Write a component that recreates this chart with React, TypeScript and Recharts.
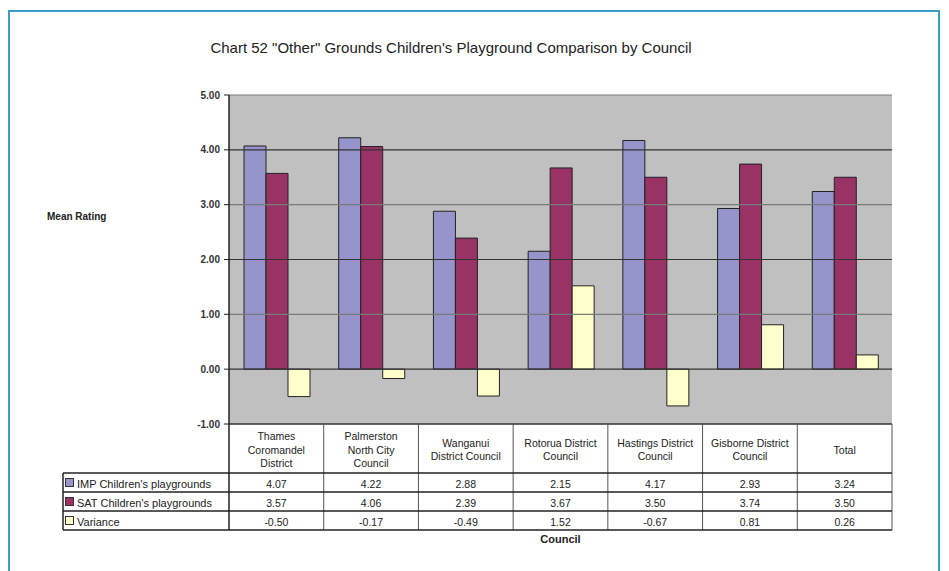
import React from "react";
import { BarChart, Bar, XAxis, YAxis, CartesianGrid, ReferenceLine } from "recharts";

const categoryLines: string[][] = [
  ["Thames", "Coromandel", "District"],
  ["Palmerston", "North City", "Council"],
  ["Wanganui", "District Council"],
  ["Rotorua District", "Council"],
  ["Hastings District", "Council"],
  ["Gisborne District", "Council"],
  ["Total"],
];
const categories = categoryLines.map((l) => l.join(" "));
const impValues = [4.07, 4.22, 2.88, 2.15, 4.17, 2.93, 3.24];
const satValues = [3.57, 4.06, 2.39, 3.67, 3.5, 3.74, 3.5];
const varianceValues = [-0.5, -0.17, -0.49, 1.52, -0.67, 0.81, 0.26];
const yTicks = [-1, 0, 1, 2, 3, 4, 5];

const seriesNames = ["IMP Children's playgrounds", "SAT Children's playgrounds", "Variance"];
const seriesColors = ["#9595cc", "#993366", "#ffffcc"];
const rows = [impValues, satValues, varianceValues];

const data = categories.map((name, i) => ({
  name,
  imp: impValues[i],
  sat: satValues[i],
  variance: varianceValues[i],
}));

const FONT = "'Liberation Sans', Arial, sans-serif";
const PLOT_LEFT = 229;
const PLOT_RIGHT = 892;
const BAND = (PLOT_RIGHT - PLOT_LEFT) / categories.length;
const HEADER_BOTTOM = 473;
const ROW_H = 19;
const TABLE_BOTTOM = HEADER_BOTTOM + ROW_H * 3;

function TableTick(props: any) {
  const { x, y, payload } = props;
  const i = payload.index;
  const lines = categoryLines[i];
  const headerMid = (y + HEADER_BOTTOM) / 2 + 1;
  const startY = headerMid - ((lines.length - 1) * 13.5) / 2;
  return (
    <g>
      {i === 0 && (
        <line x1={x - BAND / 2} x2={x - BAND / 2} y1={y} y2={TABLE_BOTTOM} stroke="#222" strokeWidth={1.5} />
      )}
      <line x1={x + BAND / 2} x2={x + BAND / 2} y1={y} y2={TABLE_BOTTOM} stroke="#555" strokeWidth={1} />
      {lines.map((t, k) => (
        <text key={k} x={x} y={startY + k * 13.5} textAnchor="middle" dominantBaseline="central" fontSize={10.5} fill="#222" fontFamily={FONT}>
          {t}
        </text>
      ))}
      {rows.map((r, k) => (
        <text key={"v" + k} x={x} y={HEADER_BOTTOM + ROW_H * k + ROW_H / 2 + 1} textAnchor="middle" dominantBaseline="central" fontSize={10.5} fill="#222" fontFamily={FONT}>
          {r[i].toFixed(2)}
        </text>
      ))}
    </g>
  );
}

export default function App() {
  return (
    <div style={{ position: "absolute", left: 0, top: 0, width: 949, height: 571, background: "#fff", overflow: "hidden", fontFamily: FONT }}>
      <div style={{ position: "absolute", left: 8, top: 10, width: 932, height: 600, border: "2px solid #3d9fc0", boxSizing: "border-box" }} />
      <div style={{ position: "absolute", left: 0, width: 902, top: 39, textAlign: "center", fontSize: 15, color: "#222" }}>
        Chart 52 "Other" Grounds Children's Playground Comparison by Council
      </div>
      <div style={{ position: "absolute", left: 47, top: 211, fontSize: 10, fontWeight: "bold", color: "#222" }}>Mean Rating</div>
      <div style={{ position: "absolute", left: PLOT_LEFT, width: PLOT_RIGHT - PLOT_LEFT, top: 533, textAlign: "center", fontSize: 11, fontWeight: "bold", color: "#222" }}>
        Council
      </div>
      <div style={{ position: "absolute", left: 0, top: 0 }}>
        <BarChart
          width={949}
          height={571}
          data={data}
          margin={{ top: 95, right: 949 - PLOT_RIGHT, left: PLOT_LEFT - 60, bottom: 0 }}
          barCategoryGap={15}
          barGap={0}
        >
          <CartesianGrid horizontal={false} vertical={false} fill="#c0c0c0" />
          {yTicks.map((t) => (
            <ReferenceLine key={t} y={t} stroke={t % 2 === 0 || t === -1 ? "#333" : "#7a7a7a"} strokeWidth={t === -1 ? 1.5 : 1.2} />
          ))}
          <XAxis
            dataKey="name"
            height={147}
            axisLine={false}
            tickLine={false}
            tickSize={0}
            tickMargin={0}
            interval={0}
            tick={<TableTick />}
          />
          <YAxis
            width={60}
            domain={[-1, 5]}
            ticks={yTicks}
            tickFormatter={(v: number) => v.toFixed(2)}
            axisLine={{ stroke: "#222", strokeWidth: 1.5 }}
            tickLine={{ stroke: "#222" }}
            tickSize={5}
            tickMargin={4}
            tick={{ fontSize: 10, fill: "#333", fontFamily: FONT, fontWeight: "bold" }}
          />
          <Bar dataKey="imp" fill={seriesColors[0]} stroke="#222" strokeWidth={1} isAnimationActive={false} />
          <Bar dataKey="sat" fill={seriesColors[1]} stroke="#222" strokeWidth={1} isAnimationActive={false} />
          <Bar dataKey="variance" fill={seriesColors[2]} stroke="#222" strokeWidth={1} isAnimationActive={false} />
        </BarChart>
      </div>
      <svg style={{ position: "absolute", left: 0, top: 0 }} width={949} height={571}>
        {[0, 1, 2, 3].map((k) => (
          <line key={k} x1={63} x2={PLOT_RIGHT} y1={HEADER_BOTTOM + ROW_H * k} y2={HEADER_BOTTOM + ROW_H * k} stroke="#222" strokeWidth={1.5} />
        ))}
        <line x1={63} x2={63} y1={HEADER_BOTTOM} y2={TABLE_BOTTOM} stroke="#222" strokeWidth={1.5} />
        {seriesNames.map((n, k) => (
          <g key={n}>
            <rect x={65.5} y={HEADER_BOTTOM + ROW_H * k + 5.5} width={8} height={8} fill={seriesColors[k]} stroke="#333" strokeWidth={1} />
            <text x={77} y={HEADER_BOTTOM + ROW_H * k + ROW_H / 2 + 1} dominantBaseline="central" fontSize={11} fill="#222" fontFamily={FONT}>
              {n}
            </text>
          </g>
        ))}
      </svg>
    </div>
  );
}
